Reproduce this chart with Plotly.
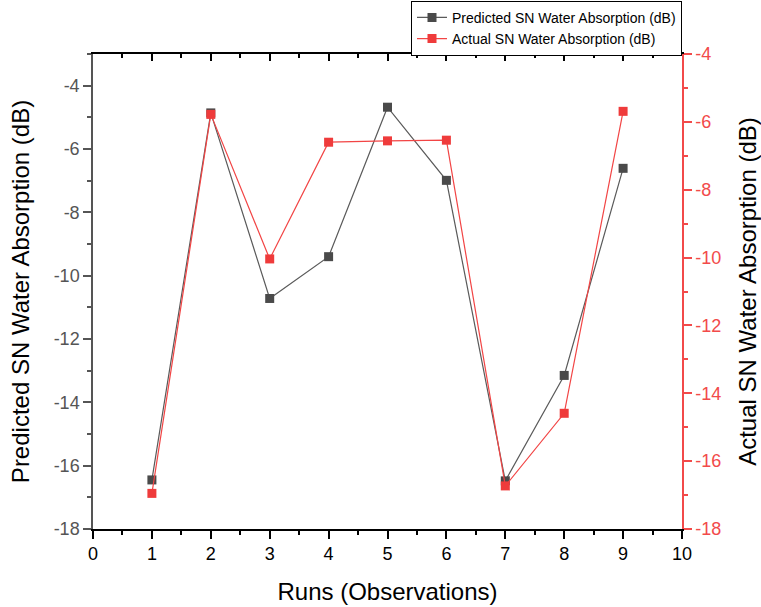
import plotly.graph_objects as go

runs = [1, 2, 3, 4, 5, 6, 7, 8, 9]
predicted = [-16.45, -4.86, -10.72, -9.40, -4.68, -6.99, -16.48, -13.15, -6.61]
actual = [-16.95, -5.78, -10.04, -6.60, -6.56, -6.54, -16.73, -14.59, -5.69]

x_ticks = [0, 1, 2, 3, 4, 5, 6, 7, 8, 9, 10]
x_labels = [str(v) for v in x_ticks]
y_ticks = [-18, -16, -14, -12, -10, -8, -6, -4]
y_labels = [str(v) for v in y_ticks]

FONT = "Liberation Sans, Arial, sans-serif"
GRAY_MARK = "#4a4a4a"
GRAY_LINE = "#5a5a5a"
AXIS_GRAY = "#555555"
RED_MARK = "#ef3b3b"
RED_LINE = "#f24545"
RED_AXIS = "#f24a4a"

fig = go.Figure()
fig.add_trace(go.Scatter(
    x=runs, y=predicted, mode="lines+markers",
    name="Predicted SN Water Absorption (dB)",
    line=dict(color=GRAY_LINE, width=1.2),
    marker=dict(symbol="square", size=9, color=GRAY_MARK, line=dict(width=0)),
    xaxis="x", yaxis="y",
))
fig.add_trace(go.Scatter(
    x=runs, y=actual, mode="lines+markers",
    name="Actual SN Water Absorption (dB)",
    line=dict(color=RED_LINE, width=1.2),
    marker=dict(symbol="square", size=9, color=RED_MARK, line=dict(width=0)),
    xaxis="x2", yaxis="y2",
))

fig.update_layout(
    width=761, height=607, autosize=False,
    margin=dict(l=93, r=79, t=54, b=78, autoexpand=False),
    plot_bgcolor="white", paper_bgcolor="white",
    font=dict(family=FONT, color="black"),
    xaxis=dict(
        range=[0, 10], tickmode="array", tickvals=x_ticks, ticktext=x_labels,
        ticks="outside", ticklen=8, tickwidth=1.5, tickcolor="black",
        showline=True, linecolor="black", linewidth=1.5,
        showgrid=False, zeroline=False,
        tickfont=dict(size=18, color="black", family=FONT),
        minor=dict(tickmode="linear", tick0=0, dtick=0.5, ticks="outside",
                   ticklen=4, tickwidth=1.5, tickcolor="black", showgrid=False),
        title=dict(text="Runs (Observations)", font=dict(size=24, family=FONT, color="black"),
                   standoff=20),
    ),
    xaxis2=dict(
        range=[0, 10], overlaying="x", side="top", anchor="y",
        tickmode="array", tickvals=x_ticks, showticklabels=False,
        ticks="inside", ticklen=7, tickwidth=1.5, tickcolor="black",
        showline=True, linecolor="black", linewidth=1.5,
        showgrid=False, zeroline=False,
        minor=dict(tickmode="linear", tick0=0, dtick=0.5, ticks="inside",
                   ticklen=4, tickwidth=1.5, tickcolor="black", showgrid=False),
    ),
    yaxis=dict(
        range=[-18, -3], tickmode="array", tickvals=y_ticks, ticktext=y_labels,
        ticks="outside", ticklen=8, tickwidth=1.5, tickcolor=AXIS_GRAY,
        showline=True, linecolor=AXIS_GRAY, linewidth=1.5,
        showgrid=False, zeroline=False,
        tickfont=dict(size=18, color=AXIS_GRAY, family=FONT),
        minor=dict(tickmode="linear", tick0=0, dtick=1, ticks="outside",
                   ticklen=4, tickwidth=1.5, tickcolor=AXIS_GRAY, showgrid=False),
        title=dict(text="Predicted SN Water Absorption (dB)",
                   font=dict(size=24, family=FONT, color="black"), standoff=17),
    ),
    yaxis2=dict(
        range=[-18, -4], overlaying="y", side="right", anchor="x",
        tickmode="array", tickvals=y_ticks, ticktext=y_labels,
        ticks="outside", ticklen=8, tickwidth=1.5, tickcolor=RED_AXIS,
        showline=True, linecolor=RED_AXIS, linewidth=1.5,
        showgrid=False, zeroline=False,
        tickfont=dict(size=18, color=RED_AXIS, family=FONT),
        minor=dict(tickmode="linear", tick0=0, dtick=1, ticks="outside",
                   ticklen=4, tickwidth=1.5, tickcolor=RED_AXIS, showgrid=False),
        title=dict(text="Actual SN Water Absorption (dB)",
                   font=dict(size=24, family=FONT, color="black"), standoff=19),
    ),
    legend=dict(
        x=1, xanchor="right", y=1.112, yanchor="top",
        bgcolor="white", bordercolor="black", borderwidth=1,
        font=dict(size=14, family=FONT, color="black"),
        tracegroupgap=0, itemwidth=30,
    ),
    showlegend=True,
)

fig.write_html("out.html", config={"displayModeBar": False},
               post_script="document.body.style.margin='0';")
